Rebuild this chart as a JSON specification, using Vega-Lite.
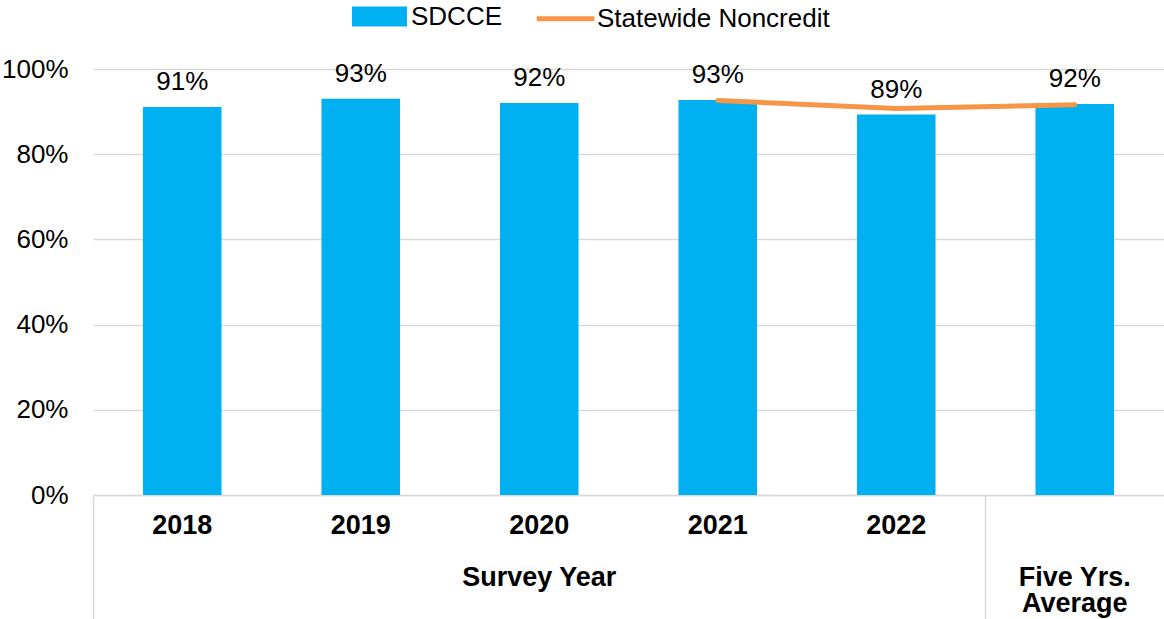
{
  "$schema": "https://vega.github.io/schema/vega-lite/v6.json",
  "width": 1071,
  "height": 426,
  "autosize": "none",
  "padding": {"left": 93, "top": 69, "right": 0, "bottom": 124},
  "config": {"font": "Liberation Sans", "view": {"stroke": null}},
  "data": {
    "values": [
      {"cat": "2018", "sdcce": 0.911, "state": null},
      {"cat": "2019", "sdcce": 0.930, "state": null},
      {"cat": "2020", "sdcce": 0.920, "state": null},
      {"cat": "2021", "sdcce": 0.927, "state": 0.926},
      {"cat": "2022", "sdcce": 0.893, "state": 0.907},
      {"cat": "Five Yrs. Average", "sdcce": 0.918, "state": 0.916}
    ]
  },
  "encoding": {
    "x": {
      "field": "cat",
      "type": "nominal",
      "sort": null,
      "scale": {"paddingInner": 0, "paddingOuter": 0},
      "axis": {
        "title": null,
        "labelAngle": 0,
        "labelFontSize": 27,
        "labelFontWeight": "bold",
        "labelColor": "black",
        "labelOverlap": false,
        "labelLineHeight": 26,
        "labelExpr": "datum.value === '2020' ? ['2020', '\u200b', 'Survey Year'] : datum.value === 'Five Yrs. Average' ? ['\u200b', '\u200b', 'Five Yrs.', 'Average'] : datum.value",
        "domainColor": "#d9d9d9",
        "domainWidth": 1.5,
        "bandPosition": 0,
        "tickSize": 124,
        "tickWidth": 1.5,
        "tickColor": {"condition": {"test": "datum.value === '2018' || datum.value === 'Five Yrs. Average'", "value": "#d9d9d9"}, "value": "transparent"},
        "labelPadding": -107
      }
    }
  },
  "layer": [
    {
      "mark": {"type": "bar", "width": {"band": 0.44}},
      "encoding": {
        "y": {
          "field": "sdcce",
          "type": "quantitative",
          "scale": {"domain": [0, 1]},
          "axis": {
            "title": null,
            "values": [0, 0.2, 0.4, 0.6, 0.8, 1],
            "format": ".0%",
            "domain": false,
            "ticks": false,
            "labelFontSize": 26,
            "labelColor": "black",
            "labelPadding": 25,
            "gridColor": "#d9d9d9",
            "gridWidth": 1.5
          }
        },
        "color": {
          "datum": "SDCCE",
          "type": "nominal",
          "scale": {"domain": ["SDCCE", "Statewide Noncredit"], "range": ["#00b0f0", "#f79646"]},
          "legend": {
            "orient": "none",
            "legendX": 259,
            "legendY": -80,
            "direction": "horizontal",
            "title": null,
            "padding": 0,
            "labelFontSize": 26,
            "labelColor": "black",
            "labelLimit": 500,
            "labelOffset": 4,
            "columnPadding": 23,
            "symbolSize": 2500,
            "encode": {
              "symbols": {
                "update": {
                  "shape": {"signal": "datum.value === 'SDCCE' ? 'M-1,-0.3H1V0.3H-1Z' : 'M-1.15,0H1.15'"},
                  "fill": {"signal": "datum.value === 'SDCCE' ? '#00b0f0' : 'transparent'"},
                  "stroke": {"signal": "datum.value === 'SDCCE' ? 'transparent' : '#f79646'"},
                  "strokeWidth": {"value": 5},
                  "opacity": {"value": 1}
                }
              }
            }
          }
        }
      }
    },
    {
      "mark": {"type": "text", "fontSize": 26, "baseline": "alphabetic", "dy": -17, "color": "black"},
      "encoding": {
        "y": {"field": "sdcce", "type": "quantitative"},
        "text": {"field": "sdcce", "type": "quantitative", "format": ".0%"}
      }
    },
    {
      "transform": [{"filter": "datum.state != null"}],
      "mark": {"type": "line", "strokeWidth": 5, "strokeCap": "round"},
      "encoding": {
        "y": {"field": "state", "type": "quantitative"},
        "color": {"datum": "Statewide Noncredit", "type": "nominal"}
      }
    }
  ]
}
